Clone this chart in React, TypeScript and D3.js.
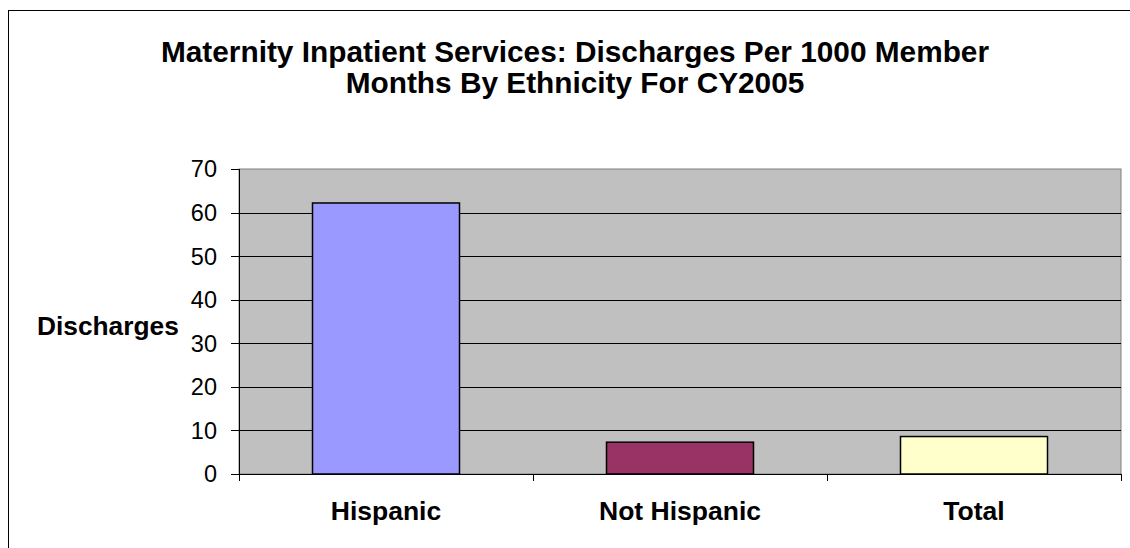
import React from "react";
import * as d3 from "d3";

const categories = ["Hispanic", "Not Hispanic", "Total"];
const values = [62.2, 7.3, 8.6];
const barColors = ["#9999FF", "#993366", "#FFFFCC"];
const yTicks = [0, 10, 20, 30, 40, 50, 60, 70];
const titleLines = [
  "Maternity Inpatient Services: Discharges Per 1000 Member",
  "Months By Ethnicity For CY2005",
];
const yAxisLabel = "Discharges";

export default function App() {
  const W = 1130;
  const H = 548;
  const plot = { left: 239, right: 1121, top: 169, bottom: 474 };
  const x = d3
    .scaleBand<string>()
    .domain(categories)
    .range([plot.left, plot.right])
    .paddingInner(0.5)
    .paddingOuter(0.25);
  const step = (plot.right - plot.left) / categories.length;
  const y = d3.scaleLinear().domain([0, 70]).range([plot.bottom, plot.top]);
  const font = "Arial, 'Liberation Sans', Helvetica, sans-serif";

  return (
    <svg
      width={W}
      height={H}
      style={{ position: "absolute", left: 0, top: 0, display: "block" }}
      fontFamily={font}
    >
      <rect x={0} y={0} width={W} height={H} fill="#fff" />
      <rect x={8.5} y={10.5} width={1300} height={700} fill="#fff" stroke="#000" strokeWidth={1} />
      {titleLines.map((t, i) => (
        <text key={t} x={575} y={62 + i * 31} textAnchor="middle" fontWeight="bold" fontSize={29.8} fill="#000">
          {t}
        </text>
      ))}
      <rect x={plot.left} y={plot.top} width={plot.right - plot.left} height={plot.bottom - plot.top} fill="#C0C0C0" stroke="#808080" strokeWidth={1} />
      {yTicks.map((t) => (
        <g key={t}>
          {t > 0 && t < 70 && (
            <line x1={plot.left} x2={plot.right} y1={Math.round(y(t)) + 0.5} y2={Math.round(y(t)) + 0.5} stroke="#000" strokeWidth={1} />
          )}
          <line x1={plot.left - 8} x2={plot.left} y1={Math.round(y(t)) + 0.5} y2={Math.round(y(t)) + 0.5} stroke="#000" />
          <text x={217} y={y(t)} dy="0.36em" textAnchor="end" fontSize={23.5} fill="#000">
            {t}
          </text>
        </g>
      ))}
      {categories.map((c, i) => (
        <rect
          key={c}
          x={x(c)}
          y={y(values[i])}
          width={x.bandwidth()}
          height={y(0) - y(values[i])}
          fill={barColors[i]}
          stroke="#000"
          strokeWidth={1.5}
        />
      ))}
      <line x1={plot.left + 0.5} x2={plot.left + 0.5} y1={plot.top} y2={plot.bottom + 7} stroke="#000" />
      <line x1={plot.left} x2={plot.right} y1={plot.bottom + 0.5} y2={plot.bottom + 0.5} stroke="#000" />
      {d3.range(categories.length + 1).map((k) => (
        <line key={k} x1={plot.left + step * k + 0.5} x2={plot.left + step * k + 0.5} y1={plot.bottom} y2={plot.bottom + 7} stroke="#000" />
      ))}
      {categories.map((c) => (
        <text key={c} x={(x(c) as number) + x.bandwidth() / 2} y={520} textAnchor="middle" fontWeight="bold" fontSize={26.5} fill="#000">
          {c}
        </text>
      ))}
      <text x={37} y={335} fontWeight="bold" fontSize={26.3} fill="#000">
        {yAxisLabel}
      </text>
    </svg>
  );
}
